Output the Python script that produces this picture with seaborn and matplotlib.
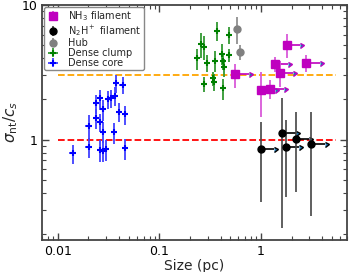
import numpy as np
import matplotlib
matplotlib.use("Agg")
import matplotlib.pyplot as plt
import matplotlib.ticker as mticker
import seaborn as sns

# --- dados ---

# NH3 filament (limites inferiores em tamanho)
nh3_size = [0.559, 1.79, 1.37, 1.53, 2.79, 1.01, 1.24]
nh3_sig = [3.05, 5.04, 3.66, 3.14, 3.71, 2.32, 2.39]
nh3_err = [0.62, 1.0, 0.47, 0.68, 0.55, 0.85, 0.39]

# N2H+ filament (limites inferiores em tamanho)
n2h_size = [0.99, 1.62, 1.76, 2.2, 3.11]
n2h_sig = [0.845, 1.12, 0.884, 1.01, 0.93]
n2h_err = [0.5, 0.9, 0.51, 0.6, 0.66]

# Hub
hub_size = [0.586, 0.625]
hub_sig = [6.65, 4.45]
hub_err = [1.55, 0.57]

# Dense clump
clump_size = [0.371, 0.488, 0.256, 0.274, 0.233, 0.292, 0.352, 0.413,
              0.488, 0.426, 0.432, 0.334, 0.344, 0.274, 0.426]
clump_sig = [6.44, 5.98, 5.13, 4.90, 4.01, 3.69, 3.85, 4.35,
             4.23, 3.81, 3.44, 2.85, 2.69, 2.59, 2.41]
clump_err = [1.0, 0.85, 1.1, 1.0, 0.7, 0.53, 0.67, 0.8,
             0.48, 0.5, 0.54, 0.33, 0.38, 0.32, 0.43]

# Dense core
core_size = [0.0375, 0.0434, 0.0259, 0.0370, 0.0313, 0.0338, 0.0237, 0.0276,
             0.0399, 0.0457, 0.0237, 0.0259, 0.0201, 0.0277, 0.0359, 0.0201,
             0.0259, 0.0279, 0.0297, 0.0457, 0.0140]
core_sig = [2.62, 2.54, 2.02, 2.12, 2.00, 2.02, 1.86, 1.68,
            1.61, 1.54, 1.45, 1.34, 1.26, 1.14, 1.13, 0.875,
            0.835, 0.826, 0.849, 0.861, 0.789]
core_err = [0.4, 0.36, 0.3, 0.35, 0.3, 0.3, 0.3, 0.3,
            0.25, 0.25, 0.25, 0.2, 0.25, 0.2, 0.2, 0.15,
            0.15, 0.15, 0.15, 0.15, 0.13]

# --- estilo ---
sns.set_style("ticks")
plt.rcParams["font.family"] = ["DejaVu Sans"]

fig = plt.figure(figsize=(3.5, 2.72), dpi=100)
ax = fig.add_axes([0.12, 0.118, 0.871, 0.864])

arrow = 0.36  # comprimento da seta (fração do tamanho)

# setas de limite inferior (sem legenda)
ax.errorbar(nh3_size, nh3_sig, xerr=np.array(nh3_size) * arrow, xlolims=True,
            fmt="none", ecolor="m", elinewidth=1.2, capsize=1.8)
ax.errorbar(n2h_size, n2h_sig, xerr=np.array(n2h_size) * arrow, xlolims=True,
            fmt="none", ecolor="k", elinewidth=1.2, capsize=1.8)

ax.errorbar(nh3_size, nh3_sig, yerr=nh3_err, fmt="s", color="m", ms=6,
            ecolor=(0.85, 0.35, 0.85), elinewidth=1.3, capsize=0,
            label=r"NH$_3$ filament")
ax.errorbar(n2h_size, n2h_sig, yerr=n2h_err, fmt="o", color="k", ms=5,
            ecolor="#444444", elinewidth=1.2, capsize=0,
            label=r"N$_2$H$^+$ filament")
ax.errorbar(hub_size, hub_sig, yerr=hub_err, fmt="o", color="gray", ms=5,
            ecolor="#909090", elinewidth=1.3, capsize=0, label="Hub")
ax.errorbar(clump_size, clump_sig, yerr=clump_err,
            xerr=np.array(clump_size) * 0.05,
            fmt="+", color="green", ms=4, mew=1.5, ecolor=(0.2, 0.6, 0.2),
            elinewidth=1.3, capsize=0, label="Dense clump")
ax.errorbar(core_size, core_sig, yerr=core_err,
            xerr=np.array(core_size) * 0.07,
            fmt="+", color="blue", ms=4, mew=1.5, ecolor=(0.25, 0.25, 1.0),
            elinewidth=1.3, capsize=0, label="Dense core")

ax.plot([0.01, 5.5], [3, 3], ls="--", color="orange", lw=1.3, zorder=0.5)
ax.plot([0.01, 5.5], [1, 1], ls="--", color="red", lw=1.3, zorder=0.5)

ax.set_xscale("log")
ax.set_yscale("log")
ax.set_xlim(0.007, 7.0)
ax.set_ylim(0.18, 10)

fmt = mticker.FuncFormatter(lambda v, p: f"{v:g}")
ax.xaxis.set_major_formatter(fmt)
ax.yaxis.set_major_formatter(fmt)
ax.yaxis.set_minor_formatter(mticker.NullFormatter())

ax.tick_params(which="both", direction="in", top=True, right=True,
               colors="#444444", labelcolor="black", labelsize=9)
ax.tick_params(which="major", length=5, width=1)
ax.tick_params(which="minor", length=3, width=0.8)
for s in ax.spines.values():
    s.set_color("#444444")
    s.set_linewidth(1.3)

ax.set_xlabel("Size (pc)", fontsize=10, labelpad=1)
ax.set_ylabel(r"$\sigma_{\rm nt}/c_s$", fontsize=11, labelpad=1)

ax.legend(loc="upper left", fontsize=7, borderaxespad=0.2,
          handlelength=1.4, handletextpad=0.8, labelspacing=0.0,
          borderpad=0.25, edgecolor="#888888", framealpha=1)

fig.savefig("out.png", dpi=100)
